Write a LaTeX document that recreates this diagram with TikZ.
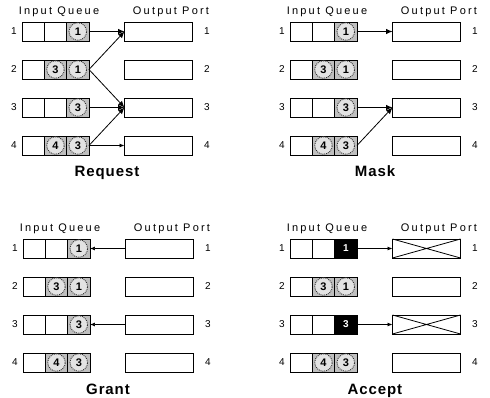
\documentclass[tikz,border=0pt]{standalone}
\usepackage{fontspec}
\setmainfont{Liberation Sans}
\usetikzlibrary{arrows.meta}
\tikzset{
  cell/.style={draw, line width=0.9pt, minimum width=22.33pt, minimum height=19pt, inner sep=0pt, outer sep=0pt},
  outb/.style={draw, line width=0.9pt, minimum width=68pt, minimum height=19pt, inner sep=0pt, outer sep=0pt},
  circ/.style={circle, draw=black!80, line width=0.9pt, densely dotted, fill=gray!22, minimum size=17.5pt, inner sep=0pt, font=\fontsize{11}{12}\selectfont\bfseries},
  hd/.style={font=\fontsize{11}{12}\selectfont\addfontfeature{LetterSpace=20}, inner sep=0pt},
  num/.style={font=\fontsize{10}{11}\selectfont, inner sep=0pt},
  ttl/.style={font=\fontsize{15}{16}\selectfont\bfseries\addfontfeature{LetterSpace=6}, inner sep=0pt, anchor=base},
  arr/.style={line width=0.8pt, -{Latex[length=6.5pt,width=5.5pt]}},
  arrs/.style={line width=0.7pt, -{Latex[length=5pt,width=4pt]}},
}
\newcommand\tokcell[2]{%
  \fill[gray!50] (#1.south west) rectangle (#1.north east);
  \draw[line width=0.9pt] (#1.south west) rectangle (#1.north east);
  \node[circ] at (#1) {#2};}
\newcommand\blkcell[2]{%
  \fill[black] (#1.south west) rectangle (#1.north east);
  \node[font=\fontsize{10}{11}\selectfont\bfseries, text=white, inner sep=0pt] at (#1) {#2};}
\newcommand\panel[4]{% #1 prefix, #2 xoff, #3 yoff, #4 title
  \begin{scope}[shift={(#2,#3)}]
    \node[hd] (#1hi) at (59,12) {Input Queue};
    \node[hd] (#1ho) at (171,12) {Output Port};
    \node[ttl] (#1t) at (107,177) {#4};
    \foreach \r/\y in {1/31.5,2/69.5,3/107.5,4/145.5} {
      \node[cell] (#1q\r a) at (33.17,\y) {};
      \node[cell] (#1q\r b) at (55.5,\y) {};
      \node[cell] (#1q\r c) at (77.83,\y) {};
      \node[outb] (#1o\r) at (158.5,\y) {};
      \node[num] (#1l\r) at (14,\y) {\r};
      \node[num] (#1r\r) at (207,\y) {\r};
    }
    \tokcell{#1q2b}{3}
    \tokcell{#1q2c}{1}
    \tokcell{#1q4b}{4}
    \tokcell{#1q4c}{3}
  \end{scope}}
\begin{document}
\begin{tikzpicture}[x=1pt, y=-1pt]
\useasboundingbox (0,0) rectangle (490,398);
% Request
\panel{r}{0}{0}{Request}
\tokcell{rq1c}{1}
\tokcell{rq3c}{3}
\draw[arr] (rq1c.east) -- (ro1.west);
\draw[arr] (rq2c.east) -- (ro1.west);
\draw[arr] (rq2c.east) -- (ro3.west);
\draw[arr] (rq3c.east) -- (ro3.west);
\draw[arr] (rq4c.east) -- (ro3.west);
\draw[arrs] (rq4c.east) -- (ro4.west);
% Mask
\panel{m}{268}{0}{Mask}
\tokcell{mq1c}{1}
\tokcell{mq3c}{3}
\draw[arr] (mq1c.east) -- (mo1.west);
\draw[arr] (mq3c.east) -- (mo3.west);
\draw[arr] (mq4c.east) -- (mo3.west);
% Grant
\panel{g}{1}{217}{Grant}
\tokcell{gq1c}{1}
\tokcell{gq3c}{3}
\draw[arrs] (go1.west) -- (gq1c.east);
\draw[arrs] (go3.west) -- (gq3c.east);
% Accept
\panel{a}{268}{217}{Accept}
\blkcell{aq1c}{1}
\blkcell{aq3c}{3}
\draw[line width=0.9pt] (aq1c.south west) rectangle (aq1c.north east);
\draw[line width=0.9pt] (aq3c.south west) rectangle (aq3c.north east);
\draw[arrs] (aq1c.east) -- (ao1.west);
\draw[arrs] (aq3c.east) -- (ao3.west);
\draw[line width=0.8pt] (ao1.north west) -- (ao1.south east) (ao1.south west) -- (ao1.north east);
\draw[line width=0.8pt] (ao3.north west) -- (ao3.south east) (ao3.south west) -- (ao3.north east);
\end{tikzpicture}
\end{document}
